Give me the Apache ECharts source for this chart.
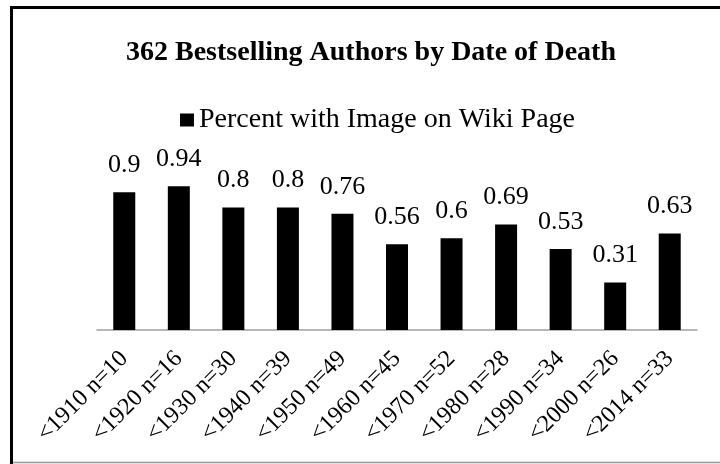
<!DOCTYPE html>
<html>
<head>
<meta charset="utf-8">
<script src="https://cdn.jsdelivr.net/npm/echarts@6/dist/echarts.min.js"></script>
<style>
  html, body { margin: 0; padding: 0; background: #fff; }
  #chart { width: 720px; height: 464px; }
</style>
</head>
<body>
<div id="chart"></div>
<script>
// data
const categories = ["<1910 n=10", "<1920 n=16", "<1930 n=30", "<1940 n=39", "<1950 n=49",
  "<1960 n=45", "<1970 n=52", "<1980 n=28", "<1990 n=34", "<2000 n=26", "<2014 n=33"]
const percentWithImage = [0.9, 0.94, 0.8, 0.8, 0.76, 0.56, 0.6, 0.69, 0.53, 0.31, 0.63]
const seriesName = "Percent with Image on Wiki Page"

const serif = "'Liberation Serif', 'Times New Roman', serif"

const myChart = echarts.init(document.getElementById("chart"))

const option = {
  backgroundColor: "#fff",
  animation: false,
  title: {
    text: "362 Bestselling Authors by Date of Death",
    left: 126,
    top: 39,
    padding: 0,
    textStyle: { fontFamily: serif, fontWeight: "bold", fontSize: 28, color: "#000" }
  },
  legend: {
    data: [seriesName],
    left: 180,
    top: 106,
    padding: 0,
    itemWidth: 14,
    itemHeight: 13,
    itemGap: 5,
    icon: "rect",
    textStyle: { fontFamily: serif, fontSize: 28, color: "#000" }
  },
  grid: { left: 97, right: 23, top: 177, bottom: 134, containLabel: false },
  xAxis: {
    type: "category",
    data: categories,
    axisLine: { lineStyle: { color: "#a0a0a0", width: 1.5 } },
    axisTick: { show: false },
    axisLabel: {
      rotate: 45,
      interval: 0,
      margin: 25,
      fontFamily: serif,
      fontSize: 24,
      color: "#000"
    }
  },
  yAxis: {
    type: "value",
    min: 0,
    max: 1,
    show: false,
    splitLine: { show: false }
  },
  series: [{
    name: seriesName,
    type: "bar",
    data: percentWithImage,
    barWidth: 22,
    itemStyle: { color: "#000" },
    label: {
      show: true,
      position: "top",
      distance: 14,
      fontFamily: serif,
      fontSize: 26,
      color: "#000"
    }
  }],
  graphic: [
    { type: "line", shape: { x1: 11.5, y1: 6, x2: 11.5, y2: 464 }, style: { stroke: "#000", lineWidth: 3 } },
    { type: "line", shape: { x1: 10, y1: 7.5, x2: 720, y2: 7.5 }, style: { stroke: "#000", lineWidth: 3 } },
    { type: "line", shape: { x1: 13, y1: 462.5, x2: 720, y2: 462.5 }, style: { stroke: "#999", lineWidth: 1.5 } }
  ]
}

myChart.setOption(option)
</script>
</body>
</html>
